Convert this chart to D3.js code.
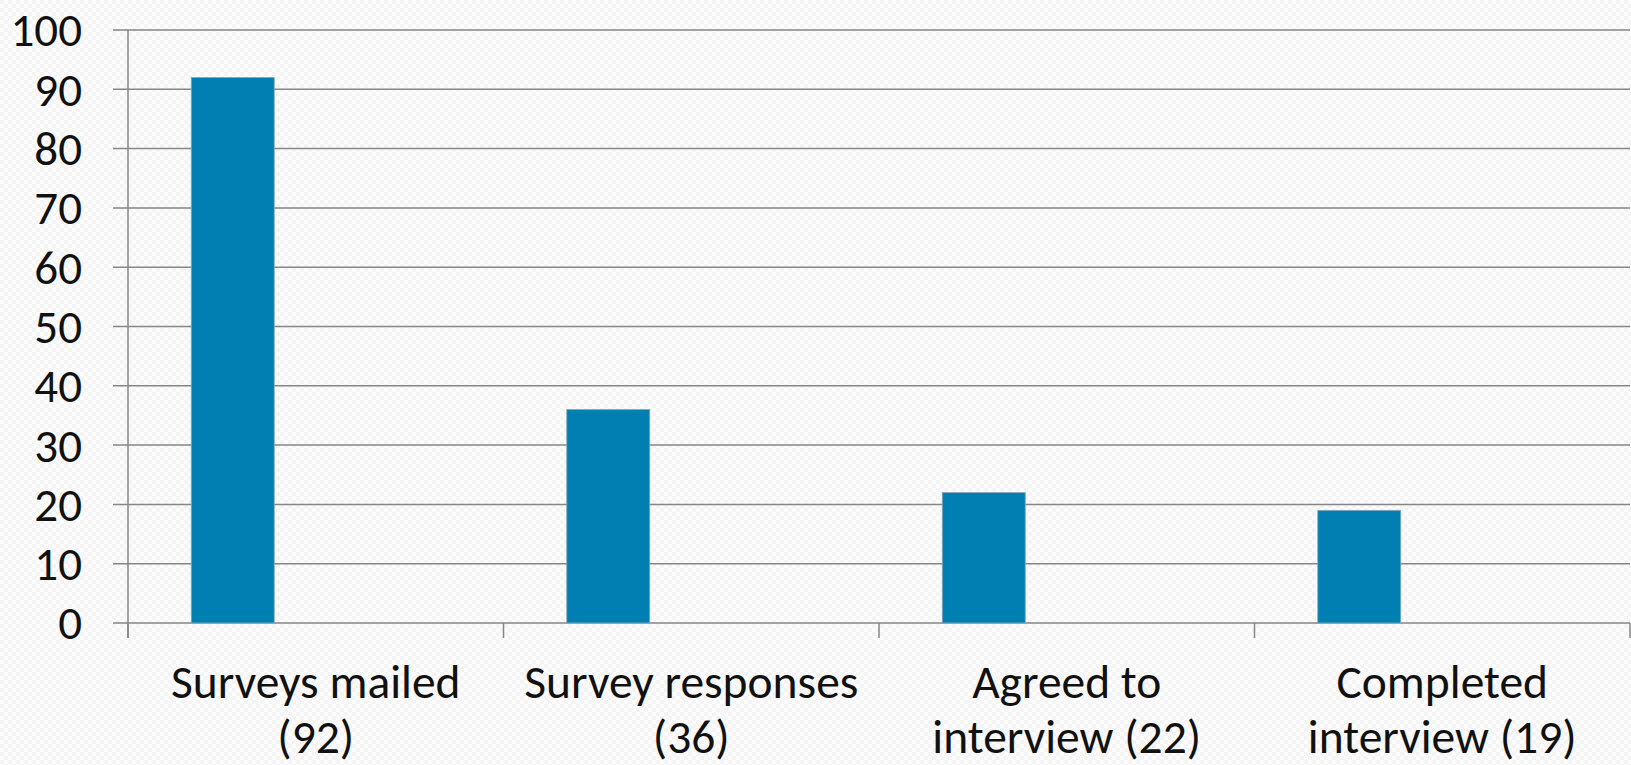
<!DOCTYPE html>
<html>
<head>
<meta charset="utf-8">
<script src="https://cdn.jsdelivr.net/npm/d3@7"></script>
<style>
  body { margin: 0; background: #fbfbfb; }
  svg { display: block; }
  text { font-family: Carlito, "Open Sans", "Noto Sans", sans-serif; fill: #111; }
</style>
</head>
<body>
<div id="chart"></div>
<script>
// chart data
const categories = [
  ['Surveys mailed', '(92)'],
  ['Survey responses', '(36)'],
  ['Agreed to', 'interview (22)'],
  ['Completed', 'interview (19)']
];
const values = [92, 36, 22, 19];
const yTicks = [0, 10, 20, 30, 40, 50, 60, 70, 80, 90, 100];

const W = 1631, H = 765;
const mLeft = 128, mRight = 1630, mTop = 30, mBottom = 623;

const svg = d3.select('#chart')
  .append('svg')
  .attr('width', W)
  .attr('height', H);

// faint textured background
const pat = svg.append('defs').append('pattern')
  .attr('id', 'tex')
  .attr('width', 8).attr('height', 8)
  .attr('patternUnits', 'userSpaceOnUse');
pat.append('rect').attr('width', 8).attr('height', 8).attr('fill', '#fcfcfc');
pat.append('rect').attr('width', 4).attr('height', 4).attr('fill', '#f4f4f4');
pat.append('rect').attr('x', 4).attr('y', 4).attr('width', 4).attr('height', 4).attr('fill', '#f4f4f4');
svg.append('rect').attr('width', W).attr('height', H).attr('fill', 'url(#tex)');

const x = d3.scaleBand()
  .domain(d3.range(categories.length))
  .range([mLeft, mRight]);

const y = d3.scaleLinear()
  .domain([0, 100])
  .range([mBottom, mTop]);

// gridlines
svg.append('g')
  .selectAll('line')
  .data(yTicks)
  .enter()
  .append('line')
  .attr('x1', mLeft - 15)
  .attr('x2', mRight)
  .attr('y1', d => y(d))
  .attr('y2', d => y(d))
  .attr('stroke', '#868686')
  .attr('stroke-width', 1.5);

// bars: first slot of a three-slot cluster
const slot = x.bandwidth() * 83 / 375.5;
const gap = (x.bandwidth() - 3 * slot) / 2;

svg.append('g')
  .selectAll('rect')
  .data(values)
  .enter()
  .append('rect')
  .attr('x', (d, i) => x(i) + gap)
  .attr('y', d => y(d))
  .attr('width', slot)
  .attr('height', d => y(0) - y(d))
  .attr('fill', '#0080b2')
  .attr('stroke', '#8aa9b8')
  .attr('stroke-width', 0.8);

// y axis line
svg.append('line')
  .attr('x1', mLeft).attr('x2', mLeft)
  .attr('y1', mTop).attr('y2', mBottom + 15)
  .attr('stroke', '#868686')
  .attr('stroke-width', 1.5);

// category ticks
svg.append('g')
  .selectAll('line')
  .data(d3.range(categories.length + 1))
  .enter()
  .append('line')
  .attr('x1', i => mLeft + i * x.step())
  .attr('x2', i => mLeft + i * x.step())
  .attr('y1', mBottom)
  .attr('y2', mBottom + 15)
  .attr('stroke', '#868686')
  .attr('stroke-width', 1.5);

// y tick labels
svg.append('g')
  .selectAll('text')
  .data(yTicks)
  .enter()
  .append('text')
  .attr('x', 82)
  .attr('y', d => y(d))
  .attr('dy', '0.35em')
  .attr('text-anchor', 'end')
  .style('font-size', '47px')
  .text(d => d);

// category labels
const lab = svg.append('g')
  .selectAll('text')
  .data(categories)
  .enter()
  .append('text')
  .attr('text-anchor', 'middle')
  .style('font-size', '47.5px');

lab.each(function (d, i) {
  d3.select(this).selectAll('tspan')
    .data(d)
    .enter()
    .append('tspan')
    .attr('x', x(i) + x.bandwidth() / 2)
    .attr('y', (t, j) => 698 + j * 55)
    .text(t => t);
});
</script>
</body>
</html>
